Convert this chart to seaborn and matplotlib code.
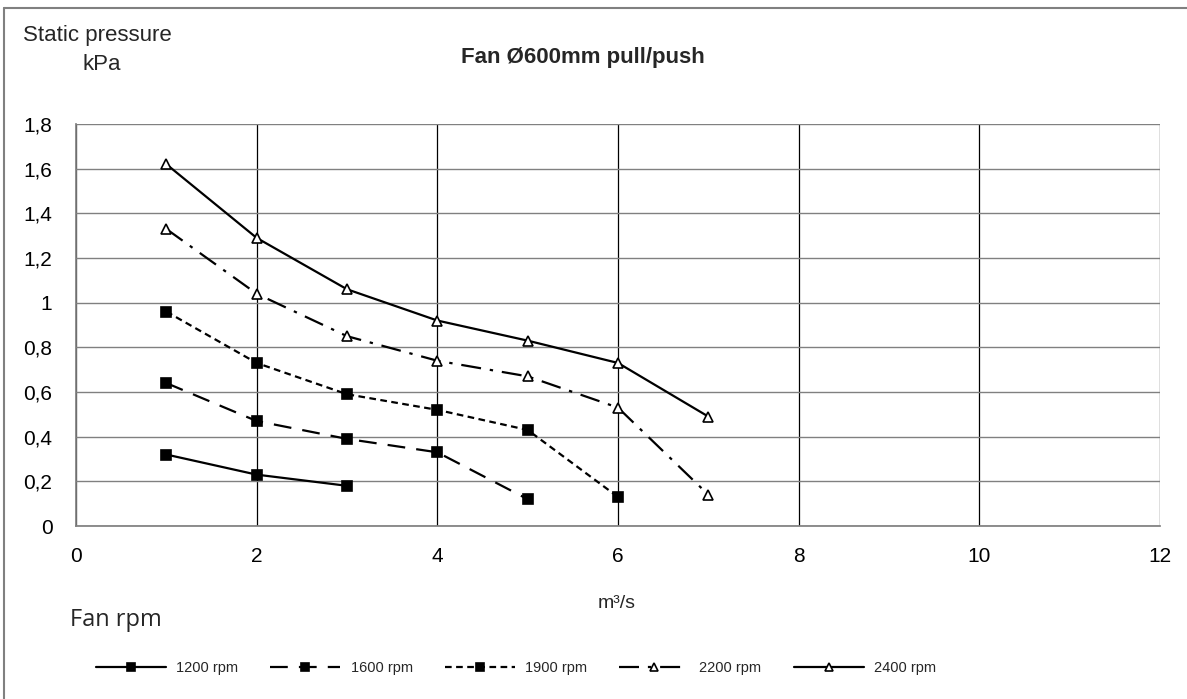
import matplotlib
matplotlib.use("Agg")
import matplotlib.pyplot as plt
import seaborn as sns
import pandas as pd
from matplotlib.lines import Line2D
from matplotlib.ticker import FuncFormatter

sns.set_theme(style="white")
plt.rcParams['font.family'] = ['Liberation Sans', 'DejaVu Sans']

flow_1200 = [1, 2, 3]
p_1200 = [0.32, 0.23, 0.18]
flow_1600 = [1, 2, 3, 4, 5]
p_1600 = [0.64, 0.47, 0.39, 0.33, 0.12]
flow_1900 = [1, 2, 3, 4, 5, 6]
p_1900 = [0.96, 0.73, 0.59, 0.52, 0.43, 0.13]
flow_2200 = [1, 2, 3, 4, 5, 6, 7]
p_2200 = [1.33, 1.04, 0.85, 0.74, 0.67, 0.53, 0.14]
flow_2400 = [1, 2, 3, 4, 5, 6, 7]
p_2400 = [1.62, 1.29, 1.06, 0.92, 0.83, 0.73, 0.49]
labels = ["1200 rpm", "1600 rpm", "1900 rpm", "2200 rpm", "2400 rpm"]
x_ticks = [0, 2, 4, 6, 8, 10, 12]
y_ticks = [0, 0.2, 0.4, 0.6, 0.8, 1.0, 1.2, 1.4, 1.6, 1.8]

series = [
    (flow_1200, p_1200, labels[0], '-', 's', 'black'),
    (flow_1600, p_1600, labels[1], (0, (8, 5)), 's', 'black'),
    (flow_1900, p_1900, labels[2], (0, (3, 2)), 's', 'black'),
    (flow_2200, p_2200, labels[3], (0, (9, 4, 1.5, 4)), '^', 'white'),
    (flow_2400, p_2400, labels[4], '-', '^', 'white'),
]

W, H = 1187, 699
fig = plt.figure(figsize=(W / 100, H / 100), dpi=100)
ax = fig.add_axes([76 / W, 1 - 526 / H, (1160 - 76) / W, (526 - 124) / H])

handles = []
for fx, py, lab, ls, mk, fc in series:
    df = pd.DataFrame({"flow": fx, "pressure": py})
    sns.lineplot(data=df, x="flow", y="pressure", ax=ax, color='black',
                 marker=mk, markersize=7.5,
                 markerfacecolor=fc, markeredgecolor='black', markeredgewidth=1.2,
                 linewidth=1.6, legend=False)
    l = ax.get_lines()[-1]
    l.set_linestyle(ls)
    l.set_label(lab)
    handles.append(l)

ax.set_xlim(0, 12)
ax.set_ylim(0, 1.8)
ax.set_xticks(x_ticks)
ax.set_yticks(y_ticks)


def fmt(v, p):
    if abs(v) < 1e-9:
        return '0'
    s = ('%.1f' % v)
    if s.endswith('.0'):
        s = s[:-2]
    return s.replace('.', ',')


ax.yaxis.set_major_formatter(FuncFormatter(fmt))
ax.tick_params(axis='both', labelsize=15, colors='#606060', labelcolor='black',
               length=8, width=1, direction='out')
ax.tick_params(axis='x', pad=7)
ax.tick_params(axis='y', pad=9)
ax.yaxis.grid(True, color='#808080', linewidth=1)
ax.xaxis.grid(True, color='black', linewidth=0.9)
for s in ['top', 'right']:
    ax.spines[s].set_visible(False)
ax.spines['left'].set_color('#808080')
ax.spines['bottom'].set_color('#808080')
ax.set_xlabel("")
ax.set_ylabel("")

fig.text(23 / W, 1 - 36 / H, "Static pressure", fontsize=16, va='center', ha='left')
fig.text(102 / W, 1 - 64 / H, "kPa", fontsize=16, va='center', ha='center')
fig.text(583 / W, 1 - 57 / H, "Fan Ø600mm pull/push", fontsize=16, fontweight='bold',
         va='center', ha='center')
fig.text(617 / W, 1 - 604 / H, "m³/s", fontsize=14, va='center', ha='center')
fig.text(70 / W, 1 - 620 / H, "Fan rpm", fontsize=17, va='center', ha='left',
         family=['Open Sans', 'DejaVu Sans'])

fig.legend(handles=handles, loc='center', bbox_to_anchor=(516 / W, 1 - 668 / H),
           ncol=5, frameon=False, fontsize=10.5, handlelength=4.8, columnspacing=2.2,
           handletextpad=0.7, markerscale=0.8)

fig.add_artist(Line2D([4 / W, 1], [1 - 8 / H, 1 - 8 / H], transform=fig.transFigure,
                      color='#808080', linewidth=1.5))
fig.add_artist(Line2D([4 / W, 4 / W], [0, 1 - 8 / H], transform=fig.transFigure,
                      color='#808080', linewidth=1.5))

fig.savefig("out.png", dpi=100)
